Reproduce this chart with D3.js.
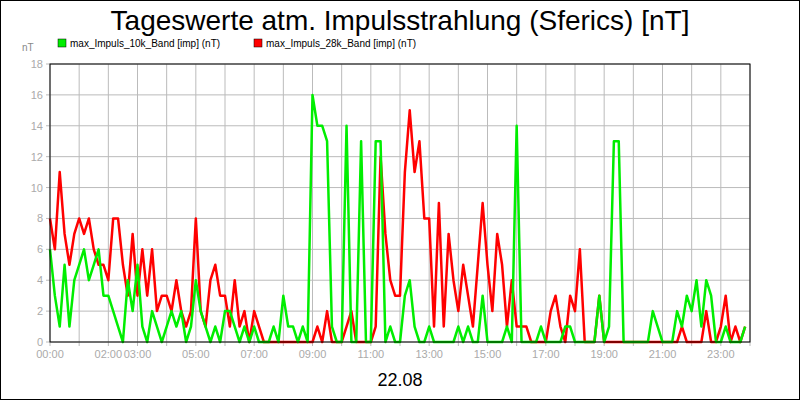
<!DOCTYPE html>
<html><head><meta charset="utf-8">
<script src="https://cdn.jsdelivr.net/npm/d3@7"></script>
<style>body{margin:0;background:#fff}</style></head>
<body><svg id="c" width="800" height="400"></svg>
<script>
// 10-minute values, 144 per series
const band10k = [
6,3,1,5,1,4, 5,6,4,5,6,3, 3,2,1,0,4,2, 5,1,0,2,1,0, 1,2,1,2,0,1, 4,2,1,0,1,0,
2,2,1,0,1,0, 1,0,0,0,1,0, 3,1,1,0,1,0, 16,14,14,13,1,0, 0,14,0,0,13,0, 0,13,13,0,1,0,
0,3,4,1,0,0, 1,0,0,0,0,0, 1,0,1,0,0,3, 0,0,0,0,1,0, 14,0,0,0,0,1, 0,0,0,0,1,1,
0,0,0,0,0,3, 0,1,13,13,0,0, 0,0,0,0,2,1, 0,0,0,2,1,3, 2,4,1,4,3,0, 0,1,0,0,0,1];
const band28k = [
8,6,11,7,5,7, 8,7,8,6,5,5, 4,8,8,5,3,7, 3,6,3,6,2,3, 3,2,4,2,1,2, 8,2,1,4,5,3,
3,1,4,1,2,0, 2,1,0,0,0,0, 0,0,0,0,0,0, 0,1,0,2,0,0, 0,1,2,0,0,0, 0,1,12,7,4,3,
3,11,15,11,13,8, 8,1,9,1,7,4, 2,5,3,1,5,9, 5,2,7,5,1,4, 1,1,1,0,0,0, 0,2,3,1,0,3,
2,6,0,0,0,3, 0,0,0,0,0,0, 0,0,0,0,0,0, 0,0,0,0,1,0, 0,0,0,2,0,0, 1,3,0,1,0,1];
const tickHours = [0,2,3,5,7,9,11,13,15,17,19,21,23];
const yTicks = [0,2,4,6,8,10,12,14,16,18];
const seriesNames = ["max_Impuls_10k_Band [imp] (nT)","max_Impuls_28k_Band [imp] (nT)"];
const colors = ["#00ee00","#ff0000"];

const svg = d3.select("#c");
const L=50,R=750,T=64,B=342;
const x = d3.scaleLinear().domain([0,24]).range([L,R]);
const y = d3.scaleLinear().domain([0,18]).range([B,T]);
svg.append("rect").attr("x",0.5).attr("y",0.5).attr("width",799).attr("height",399).attr("fill","#fff").attr("stroke","#000");
const g = svg.append("g");
g.selectAll(".vg").data(d3.range(0,25)).join("line").attr("x1",d=>x(d)).attr("x2",d=>x(d)).attr("y1",T).attr("y2",B+4).attr("stroke","#bbb");
g.selectAll(".hg").data(yTicks).join("line").attr("x1",L-4).attr("x2",R).attr("y1",d=>y(d)).attr("y2",d=>y(d)).attr("stroke","#bbb");
svg.selectAll(".yl").data(yTicks).join("text").attr("x",L-7).attr("y",d=>y(d)+4).attr("text-anchor","end")
 .attr("font-family","Liberation Sans, Arial").attr("font-size",11).attr("fill","#aaa").text(d=>d);
svg.selectAll(".xl").data(tickHours).join("text").attr("x",d=>x(d)).attr("y",358).attr("text-anchor","middle")
 .attr("font-family","Liberation Sans, Arial").attr("font-size",11).attr("fill","#aaa").text(d=>String(d).padStart(2,"0")+":00");
const line = d3.line().x((d,i)=>x(i/6)).y(d=>y(d));
[band28k,band10k].forEach((s,k)=>{
  svg.append("path").datum(s).attr("d",line).attr("fill","none").attr("stroke",k==0?colors[1]:colors[0]).attr("stroke-width",2.5).attr("stroke-linejoin","round");
});
svg.append("rect").attr("x",L).attr("y",T).attr("width",R-L).attr("height",B-T).attr("fill","none").attr("stroke","#000");
svg.append("text").attr("x",400).attr("y",30).attr("text-anchor","middle").attr("font-family","Liberation Sans, Arial").attr("font-size",28).text("Tageswerte atm. Impulsstrahlung (Sferics) [nT]");
svg.append("text").attr("x",22).attr("y",51).attr("font-family","Liberation Sans, Arial").attr("font-size",10).attr("fill","#888").text("nT");
const lx=[58,254];
seriesNames.forEach((n,i)=>{
  svg.append("rect").attr("x",lx[i]).attr("y",39).attr("width",8).attr("height",8).attr("fill",colors[i]).attr("stroke","#000").attr("stroke-width",0.5);
  svg.append("text").attr("x",lx[i]+12).attr("y",47).attr("font-family","Liberation Sans, Arial").attr("font-size",10).text(n);
});
svg.append("text").attr("x",400).attr("y",386).attr("text-anchor","middle").attr("font-family","Liberation Sans, Arial").attr("font-size",18).text("22.08");
</script></body></html>
